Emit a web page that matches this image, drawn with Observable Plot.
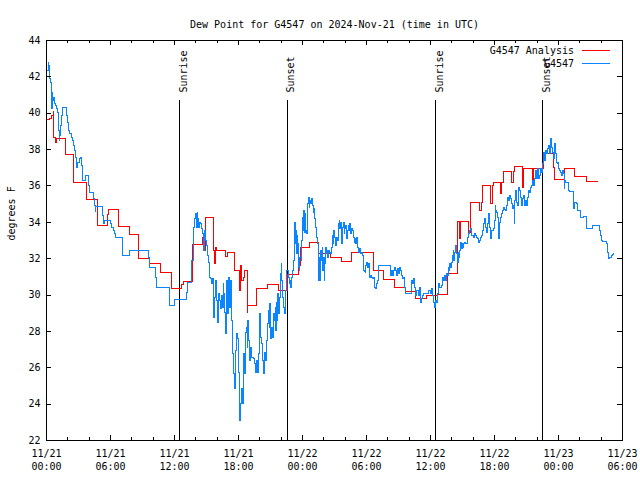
<!DOCTYPE html>
<html><head><meta charset="utf-8">
<script src="https://cdn.jsdelivr.net/npm/d3@7"></script>
<script src="https://cdn.jsdelivr.net/npm/@observablehq/plot@0.6"></script>
<style>body{margin:0;background:#fff} svg{display:block}</style>
</head><body><div id="chart"></div>
<script>
const titleText = "Dew Point for G4547 on 2024-Nov-21 (time in UTC)";
const yLabel = "degrees F";
const seriesNames = ["G4547 Analysis", "G4547"];
const seriesColors = ["#ff0000", "#0a84ff"];
const startUTC = "2024-11-21T00:00:00Z";
const spanHours = 54;
const yTicks = [22, 24, 26, 28, 30, 32, 34, 36, 38, 40, 42, 44];
const xTickHours = [0, 6, 12, 18, 24, 30, 36, 42, 48, 54];
const minorTickHours = [2, 4, 8, 10, 14, 16, 20, 22, 26, 28, 32, 34, 38, 40, 44, 46, 50, 52];
const sunLabels = ["Sunrise", "Sunset", "Sunrise", "Sunset"];
const sunHours = [12.5, 22.58, 36.5, 46.53];

// [hours since start, dew point F]
const analysisSeries = [
[0.09,39.65],[0.3,39.73],[0.5,39.87],[0.63,40.11],[0.69,38.65],[0.81,38.41],[0.94,38.63],[1.75,37.71],
[2.56,36.17],[3.75,35.25],[4.78,33.82],[5.69,34.41],[5.81,34.69],[6.72,33.77],[7.75,33.33],[8.63,31.99],
[9.69,31.75],[10.72,31.22],[11.72,30.34],[12.66,30.56],[12.81,30.74],[13.66,32.78],[14.63,33.18],[14.75,32.45],
[14.94,34.25],[15.69,32.45],[15.78,31.72],[15.88,32.63],[15.94,32.45],[16.78,32.12],[16.94,32.36],[17.63,31.35],
[18.13,30.25],[18.22,31.62],[18.31,30.8],[18.44,30.98],[18.56,31.35],[18.81,29.06],[18.88,29.42],[19.66,30.34],
[20.69,30.56],[21.72,30.25],[22.63,31.11],[23.66,31.62],[23.81,32.63],[24.69,32.89],[25.53,32.3],[26.63,32.05],
[27.66,31.84],[28.56,32.34],[30.63,31.35],[31.63,30.84],[32.66,30.4],[33.66,30.19],[34.6,29.79],[35.6,29.95],
[36.63,30.03],[37.56,31.17],[38.56,34.04],[38.69,33.09],[38.81,34.04],[39.53,33.46],[39.75,35.07],[40.62,34.65],
[40.78,35.07],[40.87,36.02],[41.62,35.02],[41.78,36.02],[41.87,36.19],[42.56,35.57],[42.69,36.19],[42.84,36.81],
[43.62,36.21],[43.75,36.81],[43.9,37.07],[44.59,35.93],[44.75,36.94],[45.56,36.12],[45.69,36.94],[46.56,37.49],
[46.72,37.77],[47.56,37.03],[47.65,36.34],[48.59,36.94],[49.53,36.52],[50.59,36.24],[51.62,36.24]
];

const stationSeries = [
[0.09,42.35],[0.16,42.81],[0.22,42.62],[0.28,41.89],[0.38,41.71],[0.44,41.07],[0.47,40.24],[0.53,41.16],
[0.59,40.7],[0.66,40.88],[0.72,40.52],[0.81,40.43],[0.94,40.24],[1.03,40.06],[1.09,39.69],[1.16,39.05],
[1.19,38.5],[1.25,38.77],[1.31,39.33],[1.41,39.87],[1.5,40.33],[1.84,39.87],[1.94,39.51],[2.06,39.05],
[2.19,38.87],[2.31,38.68],[2.44,38.5],[2.56,38.22],[2.66,37.95],[2.75,37.58],[2.84,37.03],[2.94,37.31],
[3.06,37.49],[3.19,37.58],[3.31,37.12],[3.38,36.3],[3.66,36.57],[3.91,36.02],[4.0,35.66],[4.38,35.29],
[4.5,34.92],[4.56,34.61],[4.63,34.87],[5.25,34.37],[5.38,33.92],[5.44,34.1],[6.0,33.92],[6.13,33.73],
[6.25,33.55],[6.38,33.37],[6.5,33.18],[7.13,32.17],[7.78,32.45],[9.53,32.08],[9.63,31.5],[10.25,30.98],
[10.31,30.43],[11.06,30.4],[11.5,29.42],[12.0,29.73],
[13.13,30.16],[13.25,30.71],[13.59,31.9],[13.75,32.82],[13.81,33.73],[13.88,34.19],[13.97,34.47],[14.06,33.73],
[14.13,34.56],[14.19,34.19],[14.28,33.73],[14.38,34.01],[14.44,33.92],[14.5,33.64],[14.59,33.37],[14.69,33.27],
[14.75,32.45],[14.84,33.55],[14.91,33.0],[15.0,32.72],[15.06,32.17],[15.16,31.81],[15.25,31.35],[15.31,30.98],
[15.38,30.89],[15.47,30.62],[15.56,30.89],[15.63,30.25],[15.69,28.78],[15.75,29.88],[15.84,30.8],[15.94,29.7],
[16.0,28.51],[16.09,30.07],[16.19,29.7],[16.31,29.24],[16.41,29.97],[16.5,29.33],[16.56,30.62],[16.63,30.07],
[16.72,29.06],[16.78,27.87],[16.88,30.8],[16.94,28.97],[17.03,30.98],[17.13,29.88],[17.19,29.33],[17.25,30.8],
[17.34,28.6],[17.41,27.5],[17.47,26.77],[17.56,25.67],[17.66,24.84],[17.72,26.95],[17.81,27.87],[17.88,27.59],
[17.97,27.32],[18.03,25.76],[18.09,23.1],[18.16,24.02],[18.25,24.84],[18.34,24.02],[18.44,25.3],[18.5,26.77],
[18.59,25.67],[18.69,27.96],[18.75,28.23],[18.81,27.13],[18.88,28.6],[18.97,27.5],[19.06,26.4],[19.16,27.13],
[19.22,26.58],[19.44,26.49],[19.53,26.22],[19.63,25.76],[19.69,26.4],[19.78,25.76],[19.88,26.77],[19.94,27.68],
[20.0,28.97],[20.06,27.68],[20.16,27.32],[20.25,26.4],[20.31,25.67],[20.41,26.77],[20.47,26.86],[20.56,26.4],
[20.66,27.5],[20.72,28.42],[20.78,29.15],[20.88,28.23],[20.94,29.52],[21.0,27.59],[21.09,28.23],[21.16,27.68],
[21.25,28.97],[21.34,28.6],[21.44,29.33],[21.5,28.05],[21.56,29.61],[21.63,28.6],[21.69,30.07],[21.78,28.97],
[21.84,29.88],[21.94,31.17],[22.0,31.72],[22.06,30.8],[22.16,29.88],[22.25,29.33],[22.31,28.97],[22.41,30.25],
[22.47,31.35],
[22.66,30.98],[22.75,30.62],[22.81,30.8],[22.88,30.43],[22.97,30.98],[23.06,31.35],[23.13,31.72],[23.19,31.9],
[23.25,34.01],[23.31,32.82],[23.38,33.55],[23.44,32.27],[23.5,33.27],[23.56,32.82],[23.63,31.53],[23.69,31.35],
[23.75,32.08],[23.88,31.9],[23.94,33.0],[24.0,34.28],[24.06,33.55],[24.13,34.65],[24.19,33.46],[24.25,34.47],
[24.31,33.55],[24.38,33.37],[24.44,34.28],[24.5,35.02],[24.56,35.38],[24.63,34.83],[24.69,35.2],[24.75,35.02],
[24.81,35.29],[24.91,34.92],[25.0,34.56],[25.06,34.74],[25.16,34.19],[25.25,33.73],[25.34,33.18],[25.41,32.82],
[25.47,32.63],[25.53,30.8],[25.6,32.08],[25.66,30.8],[25.72,32.45],[25.78,31.9],[25.85,32.63],[25.91,31.35],
[25.97,32.08],[26.03,30.8],[26.1,31.72],[26.16,32.63],[26.22,32.27],[26.31,32.45],[26.38,32.08],[26.47,32.45],
[26.56,32.36],[26.63,32.27],[26.72,32.63],[26.78,33.27],[26.85,32.82],[26.94,33.55],[27.03,33.18],[27.13,32.72],
[27.19,33.18],[27.28,33.0],[27.38,33.92],[27.44,34.1],[27.5,33.64],[27.56,34.01],[27.63,33.18],[27.69,32.82],
[27.75,33.73],[27.81,34.01],[27.91,33.37],[27.97,33.64],[28.06,33.82],[28.13,33.09],[28.19,33.55],[28.28,33.82],
[28.38,33.55],[28.44,33.92],[28.5,33.37],[28.56,33.64],[28.66,33.55],[28.75,33.18],[28.85,32.91],[28.94,33.09],
[29.0,32.82],[29.1,33.18],[29.19,32.63],[29.25,32.36],[29.35,32.54],[29.44,32.27],[29.53,32.36],[29.63,32.17],
[29.69,31.72],[29.75,31.35],[29.85,31.26],[29.94,31.62],[30.0,31.81],[30.1,31.53],[30.16,31.72],[30.25,31.35],
[30.31,30.98],[30.38,31.07],[30.47,30.98],[30.53,30.89],[30.63,30.98],[30.78,30.43],[30.88,30.34],[30.94,30.62],
[31.03,30.8],[31.1,31.62],[32.25,31.07],[32.35,31.35],[32.44,31.07],[32.53,31.35],[32.63,31.53],[32.72,31.35],
[32.81,31.07],[32.91,31.44],[33.0,31.17],[33.1,31.5],[33.19,31.35],[33.28,31.07],[33.38,30.89],[33.47,30.98],
[33.56,30.43],[33.66,30.07],[34.19,30.43],[34.25,30.8],[34.35,30.62],[34.44,30.89],[34.53,30.43],[34.63,29.97],
[34.72,30.25],[34.91,29.97],[35.0,30.43],
[35.06,29.61],[35.15,29.79],[35.25,29.97],[35.37,30.07],[35.84,30.25],[36.0,30.07],[36.09,30.34],[36.19,29.97],
[36.31,29.61],[36.37,29.33],[36.47,29.7],[36.56,29.61],[36.69,30.07],[36.78,30.62],[36.87,30.43],[37.0,30.52],
[37.09,30.98],[37.19,30.8],[37.31,31.07],[37.4,30.8],[37.5,31.17],[37.56,31.07],[37.65,31.53],[37.75,31.35],
[37.81,31.72],[37.9,31.53],[38.0,31.81],[38.06,32.17],[38.12,32.45],[38.19,31.9],[38.25,32.36],[38.31,32.72],
[38.4,32.27],[38.5,31.81],[38.59,32.36],[38.69,32.08],[38.75,32.45],[38.81,32.91],[38.87,32.54],[38.97,32.82],
[39.06,32.63],[39.12,32.82],[39.22,32.91],[39.31,32.82],[39.44,33.18],[39.53,33.37],[39.62,33.55],[39.72,33.64],
[39.81,33.27],[40.0,33.18],[40.09,33.37],[40.19,33.27],[40.28,33.18],[40.37,33.09],[40.47,32.91],[40.56,33.0],
[40.65,33.18],[40.75,33.27],[40.84,33.55],[40.94,33.73],[41.0,33.92],[41.06,34.19],[41.15,33.73],[41.25,33.46],
[41.31,33.92],[41.4,34.1],[41.47,34.47],[41.56,33.73],[41.65,33.09],[41.72,33.55],[41.9,33.64],[42.0,34.1],
[42.06,34.92],[42.12,34.65],[42.22,34.56],[42.31,34.28],[42.4,33.09],[42.47,34.01],[42.56,34.28],[42.65,34.47],
[42.75,34.65],[42.84,34.83],[42.94,34.69],[43.03,34.65],[43.12,34.92],[43.22,35.38],[43.31,35.2],[43.4,35.47],
[43.5,35.29],[43.59,35.02],[43.69,34.74],[43.78,34.92],[43.84,33.92],[43.9,35.2],[43.97,35.75],[44.06,35.11],
[44.15,34.92],[44.25,35.93],[44.34,35.75],[44.44,35.38],[44.53,34.92],[44.62,35.29],[44.72,35.47],[44.81,34.92],
[44.9,35.2],[45.0,34.92],[45.09,35.38],[45.19,35.75],[45.28,35.66],[45.37,35.93],[45.47,36.02],[45.56,36.3],
[45.65,36.02],[45.75,36.39],[45.84,36.85],[45.94,36.39],[46.03,36.94],[46.12,36.39],[46.22,36.57],[46.31,36.94],
[46.4,36.76],[46.5,37.22],[46.56,37.58],[46.62,37.86],[46.72,37.4],[46.78,37.95],[46.87,37.77],[46.94,38.04],
[47.03,38.22],[47.12,37.77],[47.22,38.59],[47.31,38.13],[47.4,37.86],[47.5,37.49],[47.59,37.58],[47.65,38.32],
[47.72,37.77],[47.81,37.31],[47.87,37.22],[47.97,37.31],[48.03,36.94],[48.12,36.85],[48.22,36.76],[48.28,36.57],
[48.37,36.85],[48.47,36.67],[48.53,35.84],[48.59,36.3],[48.69,36.21],[48.9,35.75],[49.0,35.71],[49.37,35.57],
[49.44,34.74],[49.53,35.11],[49.72,35.02],[49.81,34.65],[50.06,34.28],[50.37,34.34],[50.59,33.64],[51.15,33.82],
[51.81,33.64],[51.87,33.55],[51.94,33.27],[52.03,33.0],[52.12,32.94],[52.5,32.82],[52.56,32.36],[52.65,32.27],
[52.72,31.99],[52.81,32.08],[52.94,32.17],[53.06,32.23],[53.19,32.3]
];

const t0 = Date.parse(startUTC);
const T = h => new Date(t0 + h * 3600e3);
const ana = analysisSeries.map(([h, v]) => ({t: T(h), v}));
const obs = stationSeries.map(([h, v]) => ({t: T(h), v}));
const sun = sunLabels.map((label, i) => ({label, t: T(sunHours[i])}));

const W = 640, H = 480, mL = 46, mR = 18, mT = 40, mB = 40;
const fw = W - mL - mR, fh = H - mT - mB;
const font = "'DejaVu Sans Mono', 'Liberation Mono', monospace";
const crisp = {shapeRendering: "crispEdges"};

const plot = Plot.plot({
  width: W, height: H,
  marginLeft: mL, marginRight: mR, marginTop: mT, marginBottom: mB,
  style: {fontFamily: font, fontSize: "10px", color: "#000", background: "#fff", overflow: "visible"},
  x: {type: "utc", domain: [T(0), T(spanHours)], label: null},
  y: {domain: [22, 44], label: null},
  marks: [
    Plot.ruleX(sun, {x: "t", insetTop: 60, stroke: "#000", strokeWidth: 1, ...crisp}),
    Plot.text(sun, {x: "t", text: "label", rotate: -90, frameAnchor: "top", textAnchor: "start", dy: 52, fill: "#000"}),
    Plot.line(ana, {x: "t", y: "v", curve: "step-after", stroke: seriesColors[0], strokeWidth: 1, ...crisp}),
    Plot.line(obs, {x: "t", y: "v", curve: "step-after", stroke: seriesColors[1], strokeWidth: 1, ...crisp}),
    Plot.ruleX(xTickHours.map(T), {insetTop: fh - 5, stroke: "#000", ...crisp}),
    Plot.ruleX(xTickHours.map(T), {insetBottom: fh - 5, stroke: "#000", ...crisp}),
    Plot.ruleX(minorTickHours.map(T), {insetTop: fh - 3, stroke: "#000", ...crisp}),
    Plot.ruleX(minorTickHours.map(T), {insetBottom: fh - 3, stroke: "#000", ...crisp}),
    Plot.ruleY(yTicks, {insetRight: fw - 5, stroke: "#000", ...crisp}),
    Plot.ruleY(yTicks, {insetLeft: fw - 5, stroke: "#000", ...crisp}),
    Plot.axisX(xTickHours.map(T), {tickSize: 0, tickPadding: 8, tickFormat: d3.utcFormat("%m/%d\n%H:%M"), lineHeight: 1.25, label: null}),
    Plot.axisY(yTicks, {tickSize: 0, tickPadding: 6, label: null}),
    Plot.text([yLabel], {frameAnchor: "left", rotate: -90, dx: -35, fill: "#000"}),
    Plot.text([titleText], {frameAnchor: "top", dy: -20, fill: "#000"}),
    Plot.frame({stroke: "#000", ...crisp})
  ]
});

const svg = d3.select(plot);
const lg = svg.append("g").attr("font-family", font).attr("font-size", 10);
seriesNames.forEach((name, i) => {
  const y = 50 + i * 13;
  lg.append("text").attr("x", 574).attr("y", y).attr("text-anchor", "end")
    .attr("dominant-baseline", "central").attr("fill", "#000").text(name);
  lg.append("line").attr("x1", 582).attr("x2", 610).attr("y1", y).attr("y2", y)
    .attr("stroke", seriesColors[i]).attr("stroke-width", 1).attr("shape-rendering", "crispEdges");
});

document.getElementById("chart").appendChild(plot);
</script>
</body></html>
